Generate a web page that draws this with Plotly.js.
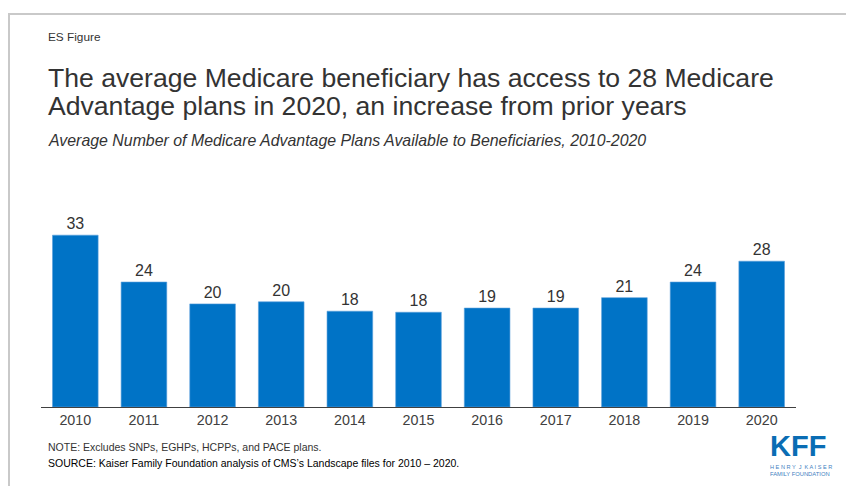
<!DOCTYPE html>
<html>
<head>
<meta charset="utf-8">
<script src="https://cdn.plot.ly/plotly-3.0.1.min.js"></script>
<style>
  html, body { margin: 0; padding: 0; background: #fff; }
  #wrap { position: relative; width: 846px; height: 486px; }
  #chart { position: absolute; left: 0; top: 0; width: 846px; height: 486px; }
  .frame-top { position: absolute; left: 8px; top: 13px; width: 838px; height: 2px; background: #c9c9c9; }
  .frame-left { position: absolute; left: 8px; top: 13px; width: 2px; height: 473px; background: #c9c9c9; }
</style>
</head>
<body>
<div id="wrap">
  <div id="chart"></div>
  <div class="frame-top"></div>
  <div class="frame-left"></div>
</div>
<script>
// ---- Data ----
const years = ["2010","2011","2012","2013","2014","2015","2016","2017","2018","2019","2020"];
const avgPlans = [33.0, 24.0, 19.8, 20.2, 18.4, 18.2, 19.0, 19.0, 21.0, 24.0, 28.0];
const planLabels = ["33","24","20","20","18","18","19","19","21","24","28"];

const titleLine1 = "The average Medicare beneficiary has access to 28 Medicare";
const titleLine2 = "Advantage plans in 2020, an increase from prior years";
const subtitle = "Average Number of Medicare Advantage Plans Available to Beneficiaries, 2010-2020";
const figLabel = "ES Figure";
const noteText = "NOTE: Excludes SNPs, EGHPs, HCPPs, and PACE plans.";
const sourceText = "SOURCE: Kaiser Family Foundation analysis of CMS\u2019s Landscape files for 2010 \u2013 2020.";

// ---- Geometry ----
const W = 846, H = 486;
const plotL = 41, plotR = 796, plotT = 200, plotB = 406.7;
const pxPerUnit = 5.2;
const yMax = (plotB - plotT) / pxPerUnit;
const px = x => (x - plotL) / (plotR - plotL);
const py = y => (plotB - y) / (plotB - plotT);

const FONT = "Liberation Sans, Arial, Helvetica, sans-serif";
function txt(text, x, y, size, color, opts) {
  return Object.assign({
    text: text, xref: "paper", yref: "paper", x: px(x), y: py(y),
    xanchor: "left", yanchor: "middle", showarrow: false,
    font: {family: FONT, size: size, color: color}
  }, opts || {});
}

const annotations = [
  txt(figLabel, 46, 37, 11.8, "#333333"),
  txt(titleLine1, 46, 78, 26.6, "#333333"),
  txt(titleLine2, 46, 106, 26.6, "#333333"),
  txt("<i>" + subtitle + "</i>", 46, 141, 15.9, "#333333"),
  txt(noteText, 46, 447, 10.5, "#333333"),
  txt(sourceText, 46, 463, 10.5, "#000000"),
  txt("<b>KFF</b>", 798, 446, 29, "#0a6db4", {xanchor: "center"}),
  txt("H E N R Y  J  K A I S E R", 768, 466.5, 5.6, "#3f7fbf"),
  txt("FAMILY FOUNDATION", 768, 473.5, 5.8, "#3f7fbf")
];

const trace = {
  type: "bar",
  x: years,
  y: avgPlans,
  text: planLabels,
  textposition: "outside",
  cliponaxis: false,
  textfont: {family: FONT, size: 16, color: "#333333"},
  marker: {color: "#0073c6", line: {color: "#5aa0dc", width: 0.6}},
  hoverinfo: "none"
};

const layout = {
  width: W, height: H,
  margin: {l: plotL, r: W - plotR, t: plotT, b: H - plotB},
  paper_bgcolor: "#ffffff",
  plot_bgcolor: "#ffffff",
  bargap: 0.335,
  showlegend: false,
  xaxis: {
    type: "category",
    showline: true, linecolor: "#404040", linewidth: 1,
    ticks: "", showgrid: false, zeroline: false,
    tickfont: {family: FONT, size: 14.3, color: "#404040"}
  },
  yaxis: {
    range: [0, yMax], visible: false, showgrid: false, zeroline: false, fixedrange: true
  },
  annotations: annotations
};

Plotly.newPlot("chart", [trace], layout, {displayModeBar: false, staticPlot: true});
</script>
</body>
</html>
